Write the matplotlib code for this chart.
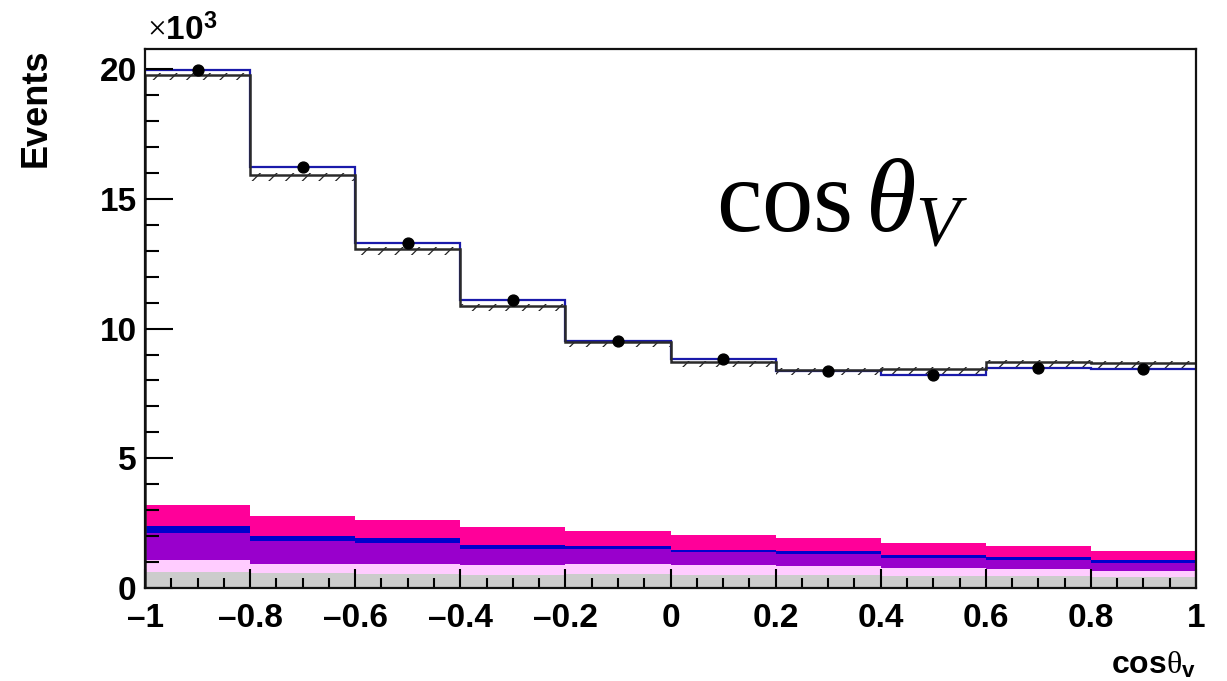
import numpy as np
import matplotlib
matplotlib.use("Agg")
import matplotlib.pyplot as plt
from matplotlib.ticker import MultipleLocator, FuncFormatter

plt.rcParams['font.family'] = ['Liberation Sans', 'DejaVu Sans']
plt.rcParams['mathtext.fontset'] = 'custom'
plt.rcParams['mathtext.rm'] = 'Liberation Serif'
plt.rcParams['mathtext.it'] = 'Liberation Serif:italic'
plt.rcParams['mathtext.bf'] = 'Liberation Sans:bold'
plt.rcParams['hatch.linewidth'] = 0.9

# Binning in cos(theta_V), 10 bins
bin_edges = np.linspace(-1.0, 1.0, 11)
bin_centers = 0.5 * (bin_edges[:-1] + bin_edges[1:])

# Event counts in thousands
data_counts = [19.96, 16.22, 13.31, 11.09, 9.52, 8.82, 8.36, 8.23, 8.50, 8.44]
total_mc = [19.79, 15.92, 13.06, 10.87, 9.49, 8.70, 8.40, 8.45, 8.72, 8.68]
fit_total = [19.96, 16.22, 13.31, 11.09, 9.52, 8.84, 8.36, 8.23, 8.50, 8.44]
mc_err = [0.22, 0.22, 0.21, 0.20, 0.19, 0.19, 0.19, 0.19, 0.19, 0.19]

# Background components (stacked from the bottom), thousands
bkg_gray = [0.63, 0.59, 0.54, 0.49, 0.53, 0.50, 0.50, 0.46, 0.45, 0.44]
bkg_lightpink = [0.45, 0.34, 0.39, 0.40, 0.40, 0.39, 0.35, 0.30, 0.27, 0.23]
bkg_purple = [1.03, 0.90, 0.80, 0.62, 0.57, 0.49, 0.46, 0.40, 0.36, 0.30]
bkg_blue = [0.29, 0.19, 0.19, 0.15, 0.10, 0.09, 0.12, 0.10, 0.12, 0.12]
bkg_magenta = [0.80, 0.76, 0.71, 0.68, 0.61, 0.58, 0.49, 0.47, 0.40, 0.35]

components = [
    (bkg_gray, '#cccccc'),
    (bkg_lightpink, '#ffccff'),
    (bkg_purple, '#9900cc'),
    (bkg_blue, '#0000cc'),
    (bkg_magenta, '#ff0099'),
]

fig = plt.figure(figsize=(12.27, 6.81), dpi=100)
ax = fig.add_axes([145 / 1227, 93 / 681, 1051 / 1227, 539 / 681])


def steps(vals):
    return np.append(vals, vals[-1])


bottom = np.zeros(len(bin_centers))
for vals, color in components:
    vals = np.asarray(vals)
    ax.fill_between(bin_edges, steps(bottom), steps(bottom + vals),
                    step='post', color=color, linewidth=0)
    bottom = bottom + vals

# hatched uncertainty band around the total MC outline
tot = np.asarray(total_mc)
err = np.asarray(mc_err)
ax.fill_between(bin_edges, steps(tot - err), steps(tot + 0.35 * err), step='post',
                facecolor='none', edgecolor='#222222', hatch='//',
                linewidth=0)

ax.stairs(fit_total, bin_edges, color='#1a1aaa', linewidth=1.6, baseline=None)
ax.stairs(total_mc, bin_edges, color='#2a2a2a', linewidth=1.8, baseline=0)

ax.plot(bin_centers, data_counts, 'o', color='black', markersize=7.8)

ax.set_xlim(-1, 1)
ax.set_ylim(0, 20.78)

ax.xaxis.set_major_locator(MultipleLocator(0.2))
ax.xaxis.set_minor_locator(MultipleLocator(0.05))
ax.yaxis.set_major_locator(MultipleLocator(5))
ax.yaxis.set_minor_locator(MultipleLocator(1))


def xfmt(v, _):
    if abs(v) < 1e-9:
        return '0'
    s = ('%.1f' % v).rstrip('0').rstrip('.')
    return s.replace('-', '\u2013')


ax.xaxis.set_major_formatter(FuncFormatter(xfmt))
ax.yaxis.set_major_formatter(FuncFormatter(lambda v, _: '%d' % round(v)))

ax.tick_params(axis='both', which='both', direction='in', top=False, right=False,
               labelsize=24, width=1.5)
ax.tick_params(axis='y', which='major', length=20, pad=6)
ax.tick_params(axis='y', which='minor', length=10)
ax.tick_params(axis='x', which='major', length=14, pad=11)
ax.tick_params(axis='x', which='minor', length=7)
for lab in ax.get_xticklabels() + ax.get_yticklabels():
    lab.set_fontweight('bold')

for sp in ax.spines.values():
    sp.set_linewidth(1.6)
    sp.set_color('#111111')
    sp.set_zorder(5)

ax.text(0.002, 1.003, r'$\times\mathbf{10}^{\mathbf{3}}$', transform=ax.transAxes,
        fontsize=24, ha='left', va='bottom')

ax.set_ylabel('Events', fontsize=26, fontweight='bold', labelpad=0)
ax.yaxis.set_label_coords(-0.087, 1.0)
ax.yaxis.label.set_ha('right')

ax.text(1.0, -0.115, r'$\mathbf{cos}\mathrm{\theta}_{\mathbf{v}}$', transform=ax.transAxes,
        fontsize=23, ha='right', va='top')

ax.text(0.543, 0.66, r'$\mathrm{cos}\,\mathit{\theta}_{V}$', transform=ax.transAxes,
        fontsize=74, ha='left', va='baseline', fontweight='normal')

fig.savefig('out.png', dpi=100)
